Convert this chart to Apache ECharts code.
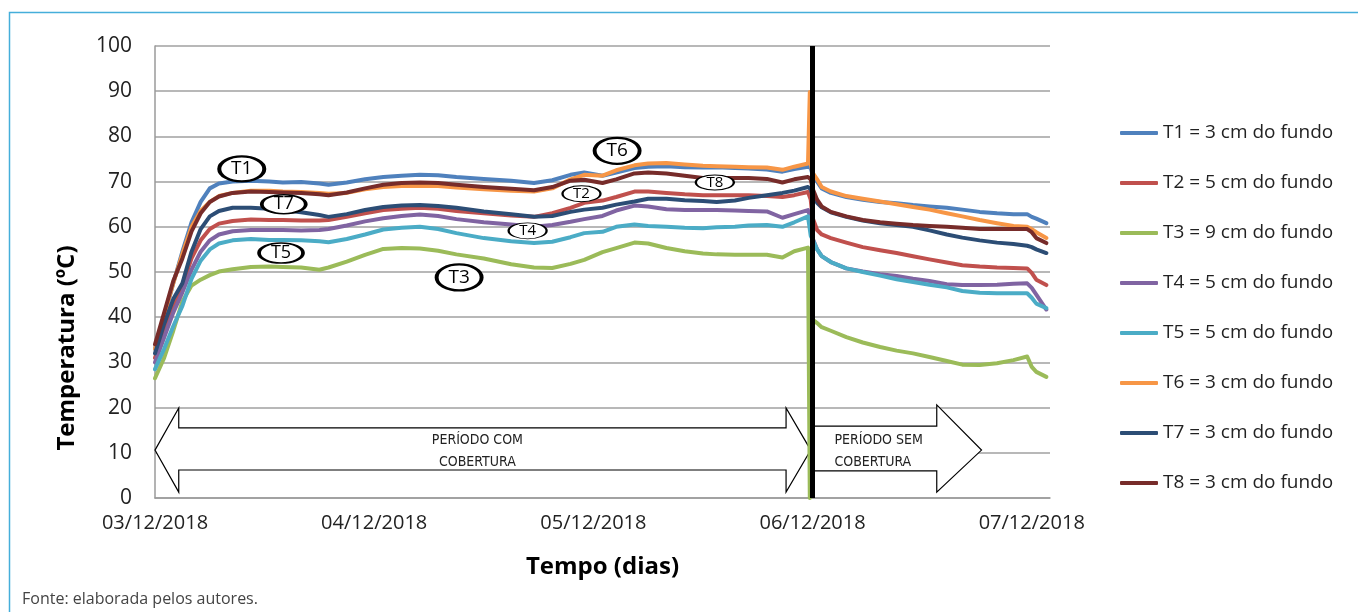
<!DOCTYPE html>
<html>
<head>
<meta charset="utf-8">
<script src="https://cdn.jsdelivr.net/npm/echarts@6/dist/echarts.min.js"></script>
<style>
  html, body { margin: 0; padding: 0; background: #fff; }
  #chart { width: 1358px; height: 612px; }
</style>
</head>
<body>
<div id="chart"></div>
<script>
// Elapsed time in hours since 03/12/2018 00:00
const hours = [0, 1, 2, 3, 4, 5, 6, 7, 8.5, 10.5, 12.5, 14, 16, 18, 19, 21, 23, 25, 27, 29, 31, 33, 36, 39, 41.5, 43.5, 45.5, 47, 49, 50.5, 52.5, 54, 56, 58, 60, 61.5, 63.5, 65, 67, 68.7, 70, 71.5, 71.7, 71.8, 72, 72.5, 73, 74, 75.7, 77.5, 79.4, 81.2, 83, 84.8, 86.7, 88.4, 90.3, 92.2, 94, 95.5, 96, 96.5, 97.6];

// Temperatures (ºC) per sensor
const t1 = [33, 40, 47.5, 54.5, 61, 65.5, 68.5, 69.6, 70, 70.2, 70, 69.8, 69.9, 69.6, 69.3, 69.8, 70.5, 71, 71.3, 71.5, 71.4, 71, 70.6, 70.2, 69.7, 70.3, 71.5, 72, 71.3, 72, 73, 73.3, 73.4, 73.2, 73.1, 73.2, 73, 72.9, 72.7, 72.2, 72.8, 73.3, 73.4, 73, 71.5, 70, 68.5, 67.5, 66.6, 66, 65.5, 65.2, 64.8, 64.5, 64.2, 63.8, 63.3, 63, 62.8, 62.8, 62.2, 61.8, 60.8];
const t2 = [31, 37, 42.5, 47, 53, 57, 59.5, 60.7, 61.3, 61.6, 61.5, 61.5, 61.4, 61.4, 61.5, 62.2, 63, 63.7, 64, 64.2, 64, 63.5, 63, 62.5, 62.2, 63, 64.2, 65.3, 65.8, 66.6, 67.8, 67.8, 67.5, 67.2, 67, 67, 67, 67, 66.8, 66.6, 67, 67.7, 67.8, 66, 62, 59.3, 58.3, 57.5, 56.5, 55.5, 54.8, 54.2, 53.5, 52.8, 52.1, 51.5, 51.2, 51, 50.9, 50.8, 49.8, 48.3, 47.1];
const t3 = [26.5, 31, 37, 43.5, 47, 48.3, 49.3, 50.1, 50.6, 51.1, 51.2, 51.1, 51, 50.5, 51, 52.3, 53.8, 55.1, 55.3, 55.2, 54.7, 53.9, 53, 51.7, 51, 50.9, 51.8, 52.7, 54.4, 55.3, 56.5, 56.3, 55.3, 54.6, 54.1, 53.9, 53.8, 53.8, 53.8, 53.2, 54.6, 55.4, 0, 0, 39.5, 38.7, 37.8, 37, 35.6, 34.4, 33.4, 32.6, 32, 31.2, 30.3, 29.5, 29.4, 29.8, 30.5, 31.3, 29, 27.9, 26.8];
const t4 = [30, 35.5, 41, 45.5, 50.5, 54.5, 57, 58.3, 59, 59.3, 59.3, 59.3, 59.2, 59.3, 59.5, 60.3, 61.2, 61.9, 62.4, 62.7, 62.4, 61.7, 61, 60.5, 60, 60.4, 61.1, 61.7, 62.4, 63.6, 64.7, 64.5, 63.9, 63.7, 63.7, 63.7, 63.6, 63.5, 63.4, 62, 62.8, 63.7, 63.7, 62, 57.5, 55, 53.5, 52.2, 50.8, 50.1, 49.5, 49.1, 48.5, 48, 47.3, 47.1, 47.1, 47.2, 47.4, 47.5, 46.5, 45, 41.7];
const t5 = [28.5, 33, 38, 42.5, 48.5, 52.5, 55, 56.3, 57, 57.3, 57.1, 57.1, 57, 56.8, 56.6, 57.3, 58.3, 59.4, 59.8, 60, 59.5, 58.6, 57.5, 56.8, 56.4, 56.7, 57.7, 58.6, 58.9, 60, 60.5, 60.2, 60, 59.8, 59.7, 59.9, 60, 60.3, 60.4, 60, 61, 62.3, 62.5, 58, 57.2, 55, 53.5, 52.2, 50.8, 50, 49.2, 48.4, 47.8, 47.2, 46.6, 45.8, 45.4, 45.3, 45.3, 45.3, 44.3, 43, 42];
const t6 = [33, 40.5, 47.5, 54, 60, 63.5, 65.5, 66.8, 67.5, 68, 68, 67.8, 67.7, 67.5, 67.3, 67.5, 68.3, 68.8, 69, 69.1, 69, 68.7, 68.3, 68, 67.8, 68.5, 70.5, 71.5, 71.3, 72.5, 73.6, 74, 74.1, 73.8, 73.5, 73.4, 73.3, 73.2, 73.1, 72.6, 73.3, 74, 89.8, 74, 72, 70.5, 68.8, 67.8, 66.8, 66.2, 65.6, 65, 64.4, 63.8, 63, 62.3, 61.5, 60.8, 60.2, 60, 59.5, 58.8, 57.5];
const t7 = [32, 38.5, 44, 47.5, 54.5, 59.5, 62.3, 63.5, 64.2, 64.2, 64, 63.7, 63.2, 62.6, 62.2, 62.8, 63.7, 64.4, 64.7, 64.8, 64.6, 64.2, 63.4, 62.8, 62.2, 62.4, 63.3, 63.8, 64.2, 64.9, 65.6, 66.2, 66.2, 65.9, 65.7, 65.5, 65.8, 66.4, 67, 67.5, 68, 68.8, 68.8, 68.3, 67, 65.3, 64.3, 63.2, 62.2, 61.4, 60.8, 60.4, 60, 59.2, 58.3, 57.6, 57, 56.5, 56.2, 55.8, 55.5, 55, 54.2];
const t8 = [34, 41, 48, 53, 59, 63, 65.5, 66.7, 67.5, 67.8, 67.7, 67.6, 67.5, 67.2, 67, 67.6, 68.5, 69.3, 69.7, 69.8, 69.7, 69.3, 68.8, 68.4, 68.1, 68.8, 70.2, 70.4, 69.7, 70.5, 71.8, 72, 71.8, 71.3, 70.8, 70.8, 70.8, 70.8, 70.6, 69.8, 70.5, 71, 71, 70.5, 68.5, 66, 64.5, 63.3, 62.3, 61.5, 61, 60.7, 60.4, 60.2, 60, 59.8, 59.5, 59.5, 59.5, 59.5, 58.8, 57.5, 56.4];

const seriesNames = ['T1 = 3 cm do fundo', 'T2 = 5 cm do fundo', 'T3 = 9 cm do fundo', 'T4 = 5 cm do fundo',
                     'T5 = 5 cm do fundo', 'T6 = 3 cm do fundo', 'T7 = 3 cm do fundo', 'T8 = 3 cm do fundo'];
const seriesValues = [t1, t2, t3, t4, t5, t6, t7, t8];
const seriesColors = ['#4F81BD', '#C0504D', '#9BBB59', '#8064A2', '#4BACC6', '#F79646', '#2C4D75', '#772C2A'];

// Tick labels on the time axis (one per day)
const dayLabels = ['03/12/2018', '04/12/2018', '05/12/2018', '06/12/2018', '07/12/2018'];

// Moment the cover was removed (hours)
const coverRemoved = 72;

// Sensor tags: [hours, ºC, text]
const tagNames = ['T1', 'T7', 'T5', 'T3', 'T4', 'T2', 'T6', 'T8'];
const tagHours = [9.5, 14.1, 13.8, 33.3, 40.8, 46.7, 50.6, 61.3];
const tagTemps = [72.8, 65, 54.2, 48.8, 59.1, 67.3, 76.8, 69.8];

const FONT = '"Open Sans", "Noto Sans", sans-serif';
const NARROW = '"Liberation Sans Narrow", "DejaVu Sans Condensed", sans-serif';

// Tag ellipse look: [width, height, border, fontSize]
const tagLook = {
  T1: [45, 25, 3, 19], T7: [44, 19, 2.5, 18], T5: [44, 20, 2.5, 18], T3: [45, 26, 3, 19],
  T4: [38, 16, 1.5, 15], T2: [38, 16, 1.5, 15], T6: [45, 26, 3, 19], T8: [38, 15, 1.5, 15]
};

// Period arrows in axis units (hours, ºC)
const arrowShapes = [
  { // double arrow: period with cover
    pts: [[0, 10.6], [2.6, 19.9], [2.6, 15.5], [69.1, 15.5], [69.1, 19.9], [71.8, 10.6],
          [69.1, 1.3], [69.1, 6.2], [2.6, 6.2], [2.6, 1.3]],
    lines: ['PERÍODO COM', 'COBERTURA'], textAt: [35.3, 10.4], align: 'center'
  },
  { // single arrow: period without cover
    pts: [[72.2, 15.9], [85.6, 15.9], [85.6, 20.6], [90.5, 10.6], [85.6, 1.3], [85.6, 6.0], [72.2, 6.0]],
    lines: ['PERÍODO SEM', 'COBERTURA'], textAt: [74.4, 10.4], align: 'left'
  }
];

const chart = echarts.init(document.getElementById('chart'), null, { renderer: 'canvas' });

const lineSeries = seriesNames.map((name, i) => ({
  name: name,
  type: 'line',
  data: hours.map((h, k) => [h, seriesValues[i][k]]),
  showSymbol: false,
  symbol: 'none',
  color: seriesColors[i],
  lineStyle: { width: 4, color: seriesColors[i], cap: 'round', join: 'round' },
  emphasis: { disabled: true },
  z: 3
}));

const arrowSeries = {
  type: 'custom',
  silent: true,
  z: 2,
  data: arrowShapes.map((_, i) => [i, 0]),
  renderItem: function (params, api) {
    const a = arrowShapes[params.dataIndex];
    const pts = a.pts.map(p => api.coord(p));
    const t = api.coord(a.textAt);
    return {
      type: 'group',
      children: [
        { type: 'polygon', shape: { points: pts },
          style: { fill: '#ffffff', stroke: '#000000', lineWidth: 1.2 } },
        { type: 'text', x: t[0], y: t[1],
          style: { text: a.lines.join('\n'), fill: '#222', font: '14px ' + NARROW,
                   lineHeight: 22, align: a.align, verticalAlign: 'middle' } }
      ]
    };
  }
};

const tagSeries = {
  type: 'scatter',
  silent: true,
  z: 5,
  symbol: 'circle',
  itemStyle: { opacity: 1 },
  data: tagNames.map((n, i) => {
    const L = tagLook[n];
    return {
      value: [tagHours[i], tagTemps[i], n],
      symbolSize: [L[0], L[1]],
      itemStyle: { color: '#ffffff', borderColor: '#000000', borderWidth: L[2], opacity: 1 },
      label: { show: true, position: 'inside', formatter: n, fontSize: L[3],
               fontFamily: FONT, color: '#000', opacity: 1, textBorderWidth: 0, textShadowBlur: 0 }
    };
  })
};

const coverLine = {
  type: 'line',
  data: [],
  silent: true,
  z: 4,
  markLine: {
    silent: true,
    symbol: 'none',
    label: { show: false },
    lineStyle: { color: '#000', width: 5, type: 'solid' },
    data: [{ xAxis: coverRemoved }],
    animation: false
  }
};

chart.setOption({
  animation: false,
  backgroundColor: '#ffffff',
  grid: { left: 155, top: 46, right: 308, bottom: 114, containLabel: false },
  legend: {
    data: seriesNames,
    orient: 'vertical',
    left: 1115,
    top: 118,
    itemWidth: 38,
    itemHeight: 4,
    itemGap: 30,
    icon: 'roundRect',
    textStyle: { fontFamily: FONT, fontSize: 19, color: '#222', lineHeight: 20 },
    selectedMode: false
  },
  xAxis: {
    type: 'value',
    min: 0,
    max: 98,
    interval: 24,
    name: 'Tempo (dias)',
    nameLocation: 'middle',
    nameGap: 57,
    nameTextStyle: { fontFamily: FONT, fontSize: 24, fontWeight: 'bold', color: '#000' },
    axisLine: { show: true, lineStyle: { color: '#9a9a9a', width: 1.5 } },
    axisTick: { show: false },
    splitLine: { show: false },
    axisLabel: {
      margin: 15,
      fontFamily: FONT, fontSize: 20, color: '#222',
      formatter: v => (v % 24 === 0 ? (dayLabels[v / 24] || '') : '')
    }
  },
  yAxis: {
    type: 'value',
    min: 0,
    max: 100,
    interval: 10,
    axisLine: { show: true, lineStyle: { color: '#9a9a9a', width: 1.5 } },
    axisTick: { show: false },
    splitLine: { show: true, lineStyle: { color: '#a0a0a0', width: 1.5 } },
    axisLabel: { margin: 23, fontFamily: FONT, fontSize: 21, color: '#222' }
  },
  graphic: [
    { type: 'polyline', silent: true,
      shape: { points: [[1358, 12.5], [9.5, 12.5], [9.5, 612]] },
      style: { stroke: '#45AEDA', lineWidth: 1.5, fill: null } },
    { type: 'text', silent: true, x: 67, y: 348, rotation: Math.PI / 2,
      style: { text: 'Temperatura (ºC)', font: 'bold 24px ' + FONT, fill: '#000',
               align: 'center', verticalAlign: 'middle' } },
    { type: 'text', silent: true, x: 22, y: 599,
      style: { text: 'Fonte: elaborada pelos autores.', font: '16px ' + FONT, fill: '#444',
               align: 'left', verticalAlign: 'middle' } }
  ],
  series: [arrowSeries].concat(lineSeries, [coverLine, tagSeries])
});
</script>
</body>
</html>
